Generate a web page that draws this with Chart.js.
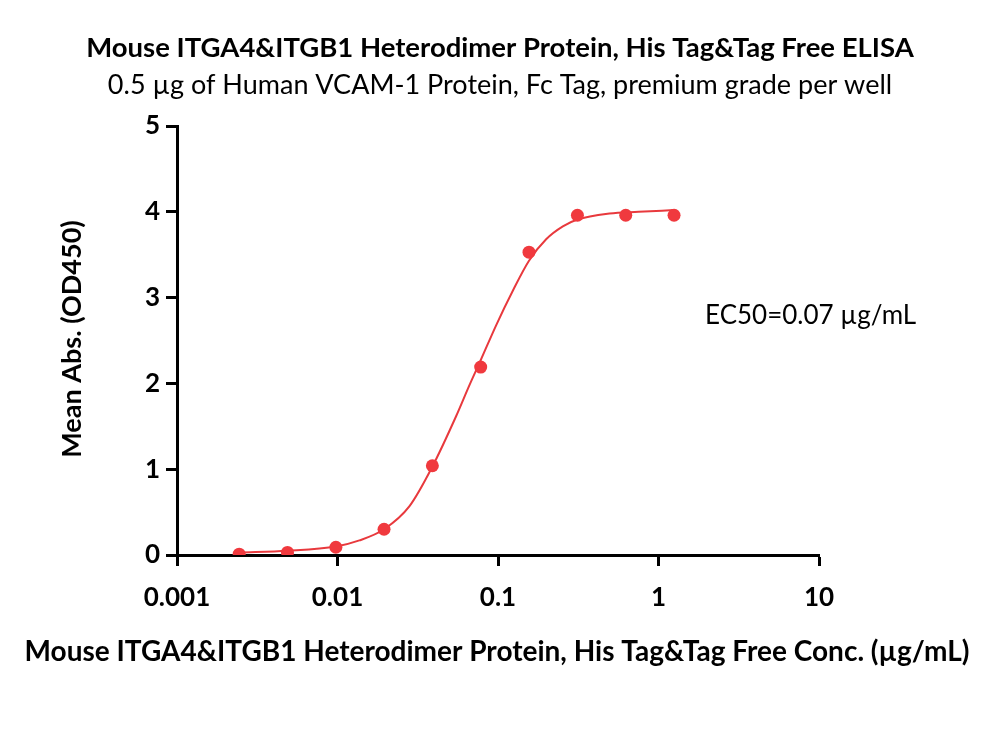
<!DOCTYPE html>
<html>
<head>
<meta charset="utf-8">
<script src="https://cdn.jsdelivr.net/npm/chart.js@4.4.1/dist/chart.umd.min.js"></script>
<style>
  html, body { margin: 0; padding: 0; background: #fff; }
  #elisa { display: block; }
</style>
</head>
<body>
<canvas id="elisa" width="1000" height="737"></canvas>
<script>
// measured points (ug/mL, OD450)
const conc = [0.00244, 0.00488, 0.00977, 0.0195, 0.039, 0.078, 0.156, 0.3125, 0.625, 1.25];
const meanAbs = [0.01, 0.03, 0.09, 0.30, 1.04, 2.19, 3.53, 3.96, 3.96, 3.96];

// fitted curve
const curveX = [0.00244, 0.0049, 0.0098, 0.0137, 0.0195, 0.0281, 0.039, 0.0549, 0.0664, 0.078,
                0.0975, 0.1237, 0.156, 0.1995, 0.2535, 0.3125, 0.495, 0.75, 1.25];
const curveY = [0.03, 0.05, 0.10, 0.17, 0.30, 0.57, 1.03, 1.62, 1.98, 2.27,
                2.68, 3.08, 3.43, 3.68, 3.83, 3.91, 3.98, 4.00, 4.02];

const xTicks = [0.001, 0.01, 0.1, 1, 10];
const xTickLabels = ['0.001', '0.01', '0.1', '1', '10'];
const yTicks = [0, 1, 2, 3, 4, 5];

const titleText = 'Mouse ITGA4&ITGB1 Heterodimer Protein, His Tag&Tag Free ELISA';
const subtitleText = '0.5 \u00b5g of Human VCAM-1 Protein, Fc Tag, premium grade per well';
const xTitle = 'Mouse ITGA4&ITGB1 Heterodimer Protein, His Tag&Tag Free Conc. (\u00b5g/mL)';
const yTitle = 'Mean Abs. (OD450)';
const ec50Text = 'EC50=0.07 \u00b5g/mL';
const ec50Pos = [1.95, 2.79];

const red = '#f0393e';
const fontFam = "Lato, 'Open Sans', sans-serif";

const textLayer = {
    id: 'textLayer',
    afterDraw: function (chart) {
        const { ctx, scales } = chart;
        ctx.save();
        ctx.fillStyle = '#000';
        ctx.textAlign = 'center';
        ctx.textBaseline = 'middle';

        ctx.font = 'bold 27.5px ' + fontFam;
        ctx.fillText(titleText, 500, 48);
        ctx.font = '27px ' + fontFam;
        ctx.fillText(subtitleText, 500, 85);

        ctx.font = 'bold 28px ' + fontFam;
        ctx.fillText(xTitle, 497, 652);

        ctx.save();
        ctx.translate(72, 339);
        ctx.rotate(-Math.PI / 2);
        ctx.font = 'bold 27px ' + fontFam;
        ctx.fillText(yTitle, 0, 0);
        ctx.restore();

        ctx.textAlign = 'left';
        ctx.font = '26px ' + fontFam;
        ctx.fillText(ec50Text, scales.x.getPixelForValue(ec50Pos[0]), scales.y.getPixelForValue(ec50Pos[1]));
        ctx.restore();
    }
};

const axisLine = {
    drawOnChartArea: false,
    drawTicks: true,
    tickLength: 11,
    tickWidth: 3,
    tickColor: '#000'
};

const ctx = document.getElementById('elisa').getContext('2d');
const chart = new Chart(ctx, {
    type: 'scatter',
    data: {
        datasets: [
            {
                label: 'points',
                data: conc.map((c, i) => ({ x: c, y: meanAbs[i] })),
                backgroundColor: red,
                borderColor: red,
                pointRadius: 6.5,
                pointHoverRadius: 6.5,
                borderWidth: 0,
                order: 1
            },
            {
                label: 'fit',
                data: curveX.map((c, i) => ({ x: c, y: curveY[i] })),
                showLine: true,
                cubicInterpolationMode: 'monotone',
                borderColor: '#e8393d',
                borderWidth: 2,
                pointRadius: 0,
                order: 2
            }
        ]
    },
    options: {
        responsive: false,
        animation: false,
        devicePixelRatio: 1,
        layout: { padding: { top: 126, right: 181, left: 0, bottom: 0 } },
        plugins: {
            legend: { display: false },
            tooltip: { enabled: false }
        },
        scales: {
            x: {
                type: 'logarithmic',
                position: 'bottom',
                min: 0.001,
                max: 10,
                afterFit: s => { s.height = 182; },
                afterBuildTicks: s => { s.ticks = xTicks.map(v => ({ value: v })); },
                ticks: {
                    color: '#000',
                    font: { family: fontFam, size: 26, weight: 'bold' },
                    padding: 16,
                    maxRotation: 0,
                    callback: function (value) {
                        const i = xTicks.indexOf(value);
                        return i >= 0 ? xTickLabels[i] : '';
                    }
                },
                grid: axisLine,
                border: { color: '#000', width: 3 }
            },
            y: {
                min: 0,
                max: 5,
                afterFit: s => { s.width = 177; },
                afterBuildTicks: s => { s.ticks = yTicks.map(v => ({ value: v })); },
                ticks: {
                    color: '#000',
                    font: { family: fontFam, size: 26, weight: 'bold' },
                    padding: 6
                },
                grid: axisLine,
                border: { color: '#000', width: 3 }
            }
        }
    },
    plugins: [textLayer]
});
</script>
</body>
</html>
